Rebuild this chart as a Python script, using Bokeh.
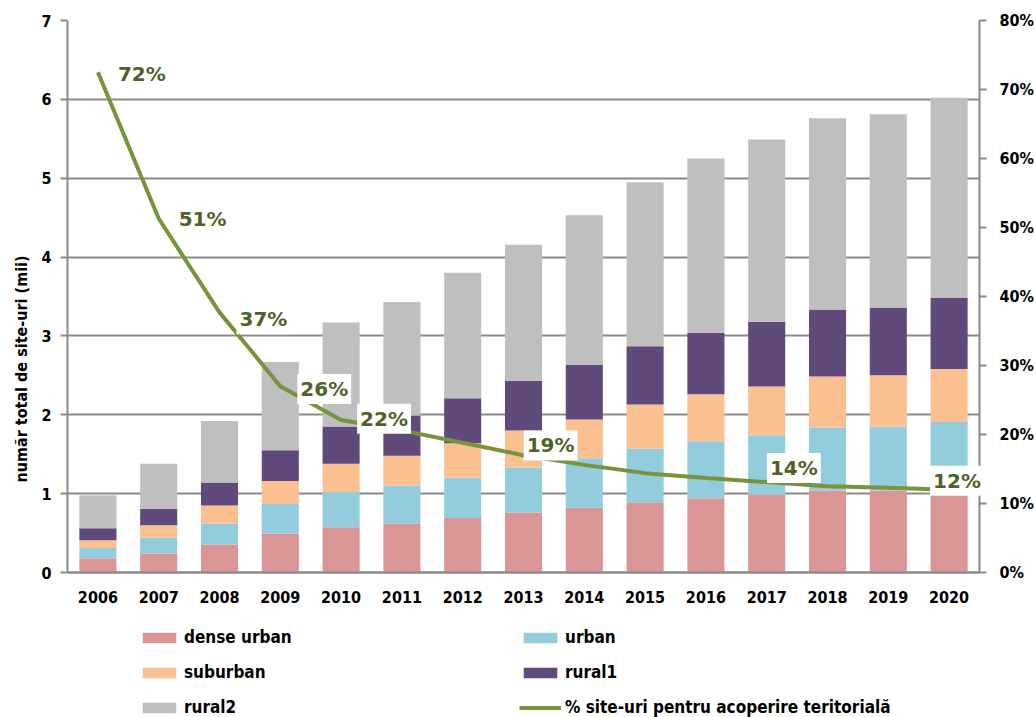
from bokeh.plotting import figure
from bokeh.models import (Range1d, LinearAxis, ColumnDataSource, Legend, LegendItem, Title,
                          SingleIntervalTicker, PrintfTickFormatter, FactorRange)
from bokeh.core.properties import value
from bokeh.embed import file_html
from bokeh.resources import INLINE

# ---------------- data ----------------
years = [str(y) for y in range(2006, 2021)]
dense_urban = [0.18, 0.24, 0.355, 0.49, 0.575, 0.62, 0.69, 0.76, 0.82, 0.89, 0.94, 0.99, 1.04, 1.04, 1.03]
urban = [0.13, 0.20, 0.265, 0.38, 0.445, 0.48, 0.51, 0.57, 0.63, 0.68, 0.725, 0.75, 0.80, 0.81, 0.88]
suburban = [0.10, 0.16, 0.23, 0.29, 0.36, 0.38, 0.44, 0.47, 0.49, 0.56, 0.595, 0.62, 0.645, 0.65, 0.67]
rural1 = [0.15, 0.21, 0.29, 0.39, 0.47, 0.51, 0.57, 0.63, 0.69, 0.74, 0.78, 0.82, 0.85, 0.86, 0.90]
rural2 = [0.42, 0.57, 0.78, 1.12, 1.32, 1.44, 1.59, 1.725, 1.90, 2.08, 2.21, 2.31, 2.425, 2.45, 2.54]
pct_sites = [72.5, 51.3, 37.7, 27.0, 22.1, 20.6, 18.8, 17.0, 15.6, 14.4, 13.7, 13.1, 12.5, 12.3, 12.0]

series_names = ["dense urban", "urban", "suburban", "rural1", "rural2"]
line_name = "% site-uri pentru acoperire teritorială"
y_title = "număr total de site-uri (mii)"

label_years = ["2006", "2007", "2008", "2009", "2010", "2012", "2016", "2020"]
label_values = [72, 51, 37, 26, 22, 19, 14, 12]
label_texts = ["72%", "51%", "37%", "26%", "22%", "19%", "14%", "12%"]

# annotation placement (screen px; dy positive = up)
label_dx = [17, 17, 17, 17, 16, 61, 61, -19]
label_dy = [2, 2, -2, 4, 2, -4, 8, 9]

# ---------------- layout / styles ----------------
W, H = 1036, 717
LEFT, RIGHT, TOP, BASE = 67, 980, 20, 572     # frame edges and y=0 baseline (px)
YMAX, PMAX = 7, 80
span = YMAX * (H - TOP) / (BASE - TOP)         # frame extends to page bottom (legend lives there)
ystart = YMAX - span
pstart = ystart * PMAX / YMAX

colors = ["#D99694", "#93CDDD", "#FAC090", "#604A7B", "#BFBFBF"]
FONT = "DejaVu Sans Condensed"
GRID = "#8A8A8A"

src = ColumnDataSource(dict(years=years, **{
    "dense urban": dense_urban, "urban": urban, "suburban": suburban,
    "rural1": rural1, "rural2": rural2, "pct": pct_sites}))

p = figure(width=W, height=H, x_range=FactorRange(*years), y_range=Range1d(ystart, YMAX),
           output_backend="svg", toolbar_location=None,
           min_border_left=LEFT, min_border_right=W - RIGHT, min_border_top=TOP, min_border_bottom=0)
p.outline_line_color = None
p.background_fill_color = "white"

bars = p.vbar_stack(series_names, x="years", width=0.61, color=colors, line_color=None, source=src)

p.extra_y_ranges = {"pct": Range1d(pstart, PMAX)}
ln = p.line(x="years", y="pct", source=src, y_range_name="pct", color="#77933C", line_width=4)

# x axis fixed at y = 0
xa = p.xaxis[0]
xa.fixed_location = 0
xa.axis_line_color = GRID
xa.axis_line_width = 2
xa.major_tick_line_color = None
xa.major_tick_out = 0
xa.major_tick_in = 0
xa.major_label_standoff = 18
xa.major_label_text_font = FONT
xa.major_label_text_font_style = "bold"
xa.major_label_text_font_size = "16px"
xa.major_label_text_color = "black"

yl = p.yaxis[0]
yl.ticker = SingleIntervalTicker(interval=1)
yl.bounds = (0, YMAX)
yl.axis_line_color = GRID
yl.axis_line_width = 2
yl.major_tick_line_color = GRID
yl.major_tick_line_width = 2
yl.major_tick_out = 7
yl.major_tick_in = 0
yl.minor_tick_line_color = None
yl.major_label_standoff = 9
yl.major_label_text_font = FONT
yl.major_label_text_font_style = "bold"
yl.major_label_text_font_size = "16px"
yl.major_label_text_color = "black"

# y-axis title centred on the 0..7 part of the axis
ttl = Title(text=y_title, align="center", offset=(H - TOP) / 2 - (BASE - TOP) / 2 + 10, standoff=15,
            text_font=FONT, text_font_style="bold", text_font_size="16px", text_color="black")
p.add_layout(ttl, "left")

yr = LinearAxis(y_range_name="pct", ticker=SingleIntervalTicker(interval=10),
                formatter=PrintfTickFormatter(format="%d%%"), bounds=(0, PMAX))
yr.axis_line_color = GRID
yr.axis_line_width = 2
yr.major_tick_line_color = GRID
yr.major_tick_line_width = 2
yr.major_tick_out = 7
yr.major_tick_in = 0
yr.minor_tick_line_color = None
yr.major_label_standoff = 13
yr.major_label_text_font = FONT
yr.major_label_text_font_style = "bold"
yr.major_label_text_font_size = "16px"
yr.major_label_text_color = "black"
p.add_layout(yr, "right")

p.xgrid.grid_line_color = None
p.ygrid.grid_line_color = GRID
p.ygrid.grid_line_width = 2
p.ygrid.bounds = (0, YMAX)

# data labels (white boxes)
lsrc = ColumnDataSource(dict(x=label_years, y=label_values, t=label_texts, dx=label_dx,
                             ndy=[-d for d in label_dy]))
p.text(x="x", y="y", text="t", source=lsrc, y_range_name="pct",
       x_offset="dx", y_offset="ndy", text_align="left", text_baseline="middle",
       text_font=value("DejaVu Sans"), text_font_style="bold", text_font_size="20px",
       text_color="#4F6228", background_fill_color="white", padding=3, level="annotation")

# legend (bottom-left corner location, px from frame bottom-left)
items = [LegendItem(label=n, renderers=[r]) for n, r in zip(series_names, bars)]
items.append(LegendItem(label=line_name, renderers=[ln]))
legend = Legend(items=items, orientation="horizontal", ncols=2, location=(71, 0),
                glyph_width=42, glyph_height=13, label_standoff=4, label_width=320,
                label_height=20, spacing=15, padding=0, margin=0,
                border_line_color=None, background_fill_alpha=0,
                label_text_font=FONT, label_text_font_style="bold",
                label_text_font_size="17px", label_text_color="black")
p.add_layout(legend)

open("out.html", "w").write(file_html(p, INLINE))
